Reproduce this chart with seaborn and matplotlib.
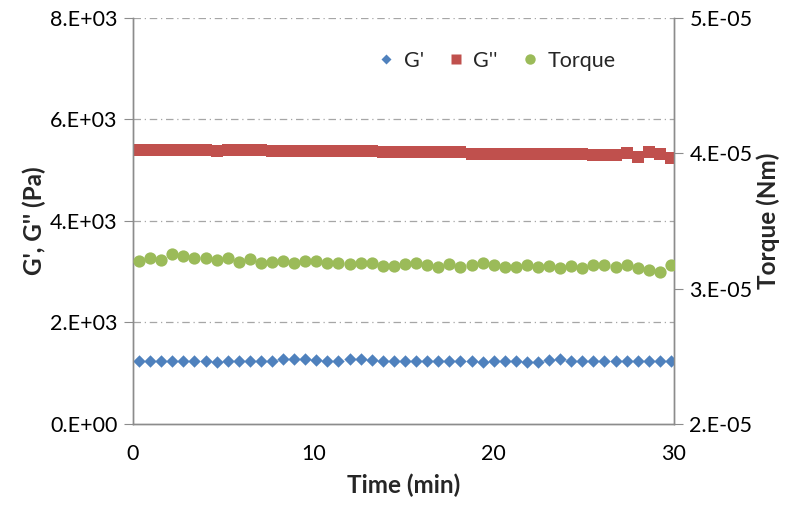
import numpy as np
import pandas as pd
import matplotlib
matplotlib.use("Agg")
import matplotlib.pyplot as plt
from matplotlib.lines import Line2D
from matplotlib.ticker import FixedLocator
import seaborn as sns

# ---- data ----
time_min = [0.33, 0.94, 1.56, 2.17, 2.79, 3.40, 4.02, 4.63, 5.25, 5.86,
            6.48, 7.09, 7.71, 8.32, 8.94, 9.55, 10.16, 10.78, 11.39, 12.01,
            12.62, 13.24, 13.85, 14.47, 15.08, 15.70, 16.31, 16.93, 17.54, 18.15,
            18.77, 19.38, 20.00, 20.61, 21.23, 21.84, 22.46, 23.07, 23.69, 24.30,
            24.92, 25.53, 26.14, 26.76, 27.37, 27.99, 28.60, 29.22, 29.83]

g_storage = [1250, 1250, 1250, 1250, 1250, 1250, 1250, 1215, 1250, 1250,
             1250, 1250, 1250, 1275, 1275, 1275, 1265, 1250, 1250, 1275,
             1275, 1265, 1250, 1250, 1250, 1250, 1250, 1250, 1250, 1250,
             1250, 1215, 1240, 1250, 1250, 1220, 1220, 1265, 1285, 1250,
             1250, 1250, 1250, 1250, 1250, 1250, 1250, 1250, 1250]

g_loss = [5400, 5400, 5400, 5400, 5400, 5400, 5400, 5375, 5400, 5400,
          5400, 5400, 5380, 5380, 5380, 5380, 5380, 5380, 5380, 5380,
          5380, 5380, 5350, 5350, 5350, 5350, 5350, 5350, 5350, 5350,
          5320, 5320, 5320, 5320, 5320, 5320, 5320, 5320, 5320, 5320,
          5320, 5295, 5295, 5295, 5335, 5265, 5360, 5320, 5235]

torque = [3.205e-5, 3.229e-5, 3.212e-5, 3.256e-5, 3.244e-5, 3.225e-5, 3.229e-5, 3.212e-5, 3.225e-5, 3.200e-5,
          3.217e-5, 3.188e-5, 3.200e-5, 3.205e-5, 3.188e-5, 3.205e-5, 3.205e-5, 3.192e-5, 3.192e-5, 3.180e-5,
          3.192e-5, 3.192e-5, 3.168e-5, 3.168e-5, 3.180e-5, 3.188e-5, 3.175e-5, 3.163e-5, 3.180e-5, 3.163e-5,
          3.175e-5, 3.188e-5, 3.175e-5, 3.163e-5, 3.163e-5, 3.175e-5, 3.163e-5, 3.168e-5, 3.155e-5, 3.168e-5,
          3.155e-5, 3.175e-5, 3.175e-5, 3.163e-5, 3.175e-5, 3.151e-5, 3.138e-5, 3.126e-5, 3.175e-5]

series_labels = ["G'", "G''", "Torque"]
left_ticks = [0, 2000, 4000, 6000, 8000]
left_tick_labels = ["0.E+00", "2.E+03", "4.E+03", "6.E+03", "8.E+03"]
right_ticks = [2e-5, 3e-5, 4e-5, 5e-5]
right_tick_labels = ["2.E-05", "3.E-05", "4.E-05", "5.E-05"]
x_ticks = [0, 10, 20, 30]

df = pd.DataFrame({"time": time_min, "gp": g_storage, "gpp": g_loss, "torque": torque})

# ---- style ----
sns.set_theme(style="white")
plt.rcParams["font.family"] = ["Lato", "DejaVu Sans"]

BLUE = "#4F81BD"
RED = "#C0504D"
GREEN = "#9BBB59"
AXIS_GREY = "#8C8C8C"
GRID_GREY = "#A6A6A6"
TICK_FS = 15.5
TITLE_FS = 17.5
LEGEND_FS = 15.5

fig = plt.figure(figsize=(7.9, 5.05), dpi=100)
ax = fig.add_axes([0.1684, 0.1604, 0.6848, 0.804])
ax2 = ax.twinx()

sns.scatterplot(data=df, x="time", y="gp", ax=ax, marker="D", s=40,
                color=BLUE, linewidth=0, zorder=3)
sns.scatterplot(data=df, x="time", y="gpp", ax=ax, marker="s", s=68,
                color=RED, linewidth=0, zorder=3)
sns.scatterplot(data=df, x="time", y="torque", ax=ax2, marker="o", s=78,
                color=GREEN, linewidth=0, zorder=3)

# ---- axes limits and ticks ----
ax.set_xlim(0, 30)
ax.set_ylim(0, 8000)
ax2.set_ylim(2e-5, 5e-5)

ax.yaxis.set_major_locator(FixedLocator(left_ticks))
ax.set_yticklabels(left_tick_labels)
ax2.yaxis.set_major_locator(FixedLocator(right_ticks))
ax2.set_yticklabels(right_tick_labels)
ax.xaxis.set_major_locator(FixedLocator(x_ticks))
ax.set_xticklabels([str(v) for v in x_ticks])

for a in (ax, ax2):
    a.tick_params(axis="both", which="major", direction="out", length=6.5,
                  width=0.8, color=AXIS_GREY, labelsize=TICK_FS, labelcolor="black")
ax.tick_params(axis="y", pad=4.5)
ax.tick_params(axis="x", pad=8)
ax2.tick_params(axis="y", pad=4.5)

# horizontal dash-dot gridlines
for yv in left_ticks[1:]:
    ax.axhline(yv, color=GRID_GREY, lw=0.9, ls=(0, (6, 3, 1, 3)), zorder=1)
ax.grid(False)
ax2.grid(False)

for a in (ax, ax2):
    a.spines["top"].set_visible(False)
    for side in ("left", "right", "bottom"):
        a.spines[side].set_color(AXIS_GREY)
        a.spines[side].set_linewidth(1.0)
    a.set_facecolor("none")

ax.set_xlabel("Time (min)", fontsize=TITLE_FS, fontweight="bold", labelpad=7)
ax.set_ylabel("G', G'' (Pa)", fontsize=TITLE_FS, fontweight="bold", labelpad=3)
ax2.set_ylabel("Torque (Nm)", fontsize=TITLE_FS, fontweight="bold", labelpad=3)

# ---- legend ----
handles = [
    Line2D([], [], ls="none", marker="D", ms=5.5, color=BLUE, mec="none"),
    Line2D([], [], ls="none", marker="s", ms=7, color=RED, mec="none"),
    Line2D([], [], ls="none", marker="o", ms=7.5, color=GREEN, mec="none"),
]
ax2.legend(handles, series_labels, ncol=3, frameon=False, fontsize=LEGEND_FS,
           loc="center", bbox_to_anchor=(0.672, 0.895), handlelength=0.8,
           handletextpad=0.4, columnspacing=1.1)

fig.savefig("out.png", dpi=100)
